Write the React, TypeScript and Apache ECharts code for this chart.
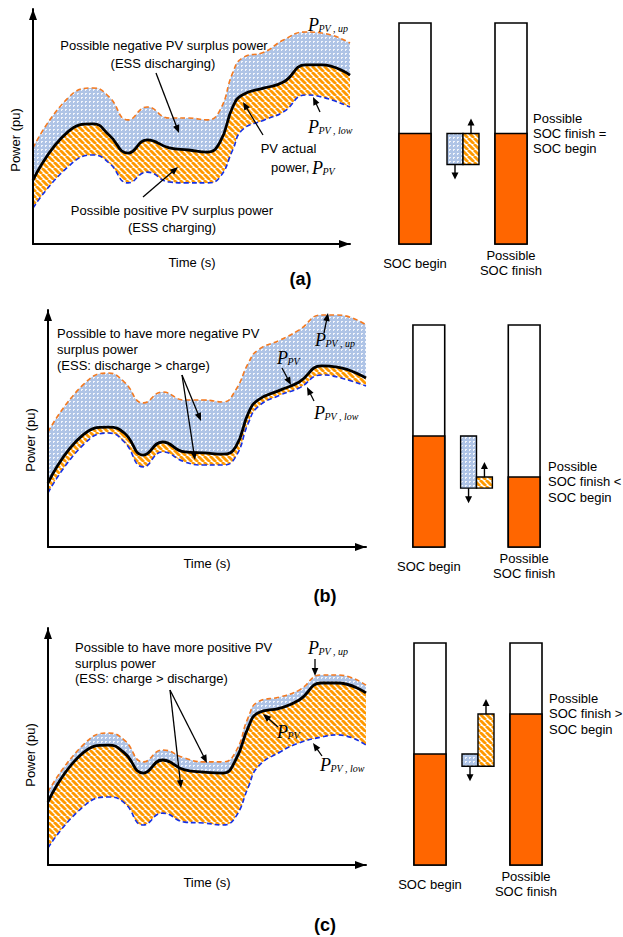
import React, { useEffect, useRef } from 'react';
import * as echarts from 'echarts';

// ---------- data ----------
const time = [0, 11, 19, 24, 30, 36, 43, 49, 55, 59, 63, 66, 73, 79, 86, 91, 100];

const pvA = [0.272, 0.477, 0.511, 0.464, 0.387, 0.443, 0.409, 0.4, 0.391, 0.434, 0.583, 0.634, 0.664, 0.689, 0.762, 0.762, 0.719];
const upA = [0.409, 0.621, 0.664, 0.626, 0.528, 0.583, 0.536, 0.536, 0.528, 0.57, 0.728, 0.791, 0.817, 0.868, 0.902, 0.898, 0.855];
const lowA = [0.153, 0.328, 0.379, 0.345, 0.26, 0.306, 0.264, 0.26, 0.26, 0.285, 0.4, 0.485, 0.528, 0.562, 0.634, 0.626, 0.583];

const pvB = [0.27, 0.473, 0.506, 0.481, 0.388, 0.443, 0.401, 0.397, 0.392, 0.422, 0.565, 0.62, 0.662, 0.696, 0.764, 0.759, 0.713];
const upB = [0.485, 0.684, 0.734, 0.696, 0.608, 0.654, 0.62, 0.62, 0.612, 0.662, 0.776, 0.831, 0.873, 0.916, 0.979, 0.979, 0.937];
const lowB = [0.228, 0.43, 0.481, 0.443, 0.338, 0.401, 0.359, 0.346, 0.346, 0.38, 0.523, 0.591, 0.641, 0.671, 0.726, 0.717, 0.679];

const pvC = [0.266, 0.473, 0.506, 0.473, 0.388, 0.443, 0.401, 0.392, 0.388, 0.443, 0.582, 0.641, 0.662, 0.696, 0.768, 0.768, 0.726];
const upC = [0.308, 0.506, 0.557, 0.527, 0.435, 0.485, 0.451, 0.435, 0.435, 0.477, 0.624, 0.688, 0.709, 0.738, 0.802, 0.802, 0.759];
const lowC = [0.072, 0.245, 0.287, 0.262, 0.169, 0.219, 0.181, 0.177, 0.169, 0.203, 0.329, 0.414, 0.477, 0.515, 0.54, 0.549, 0.506];

const socCategories = ['SOC begin', '', 'Possible\nSOC finish'];
const socBegin = [50, 50, 50];
const socDischarge = [14, 23.5, 5.5];
const socCharge = [14, 5, 23.5];
const socFinish = [50, 31.5, 68];

const finishNotes = ['Possible\nSOC finish =\nSOC begin', 'Possible\nSOC finish <\nSOC begin', 'Possible\nSOC finish >\nSOC begin'];

// ---------- styles ----------
const SANS = '"Liberation Sans", Arial, sans-serif';
const SERIF = '"Liberation Serif", "Times New Roman", serif';
const ORANGE_DASH = '#F47A20';
const BLUE_DASH = '#1530E6';
const HATCH_ORANGE = '#FF9900';
const SOC_ORANGE = '#FF6600';

function makeHatch() {
  const s = 6;
  const c = document.createElement('canvas');
  c.width = s; c.height = s;
  const g = c.getContext('2d')!;
  g.fillStyle = '#ffffff';
  g.fillRect(0, 0, s, s);
  g.strokeStyle = HATCH_ORANGE;
  g.lineWidth = 2.8;
  for (const k of [-s, 0, s]) {
    g.beginPath();
    g.moveTo(k, 0);
    g.lineTo(k + s, s);
    g.stroke();
  }
  return { image: c.toDataURL(), repeat: 'repeat', imageWidth: s, imageHeight: s };
}

function makeDots() {
  const s = 4;
  const c = document.createElement('canvas');
  c.width = s; c.height = s;
  const g = c.getContext('2d')!;
  g.fillStyle = '#AFC4E6';
  g.fillRect(0, 0, s, s);
  g.fillStyle = '#F3F6FC';
  g.fillRect(1, 1, 2, 1);
  g.fillRect(1, 2, 1, 1);
  return { image: c.toDataURL(), repeat: 'repeat', imageWidth: s, imageHeight: s };
}

function arrow(x1: number, y1: number, x2: number, y2: number, head = 8, half = 3.3, lw = 1.3, z = 100) {
  const dx = x2 - x1, dy = y2 - y1;
  const L = Math.sqrt(dx * dx + dy * dy);
  const ux = dx / L, uy = dy / L;
  const px = -uy, py = ux;
  const bx = x2 - ux * head, by = y2 - uy * head;
  return [
    { type: 'line', z, silent: true, shape: { x1, y1, x2: bx + ux * 1, y2: by + uy * 1 }, style: { stroke: '#000', lineWidth: lw } },
    { type: 'polygon', z, silent: true, shape: { points: [[x2, y2], [bx + px * half, by + py * half], [bx - px * half, by - py * half]] }, style: { fill: '#000' } },
  ];
}

function txt(text: string, x: number, y: number, opts: any = {}) {
  const align = opts.align || 'center';
  const va = opts.va || 'middle';
  return {
    type: 'text', z: 100, silent: true, x, y, rotation: opts.rotation || 0,
    style: {
      text, fill: '#000',
      font: opts.font || `13px ${SANS}`,
      align, textAlign: align, verticalAlign: va, textVerticalAlign: va,
      lineHeight: opts.lineHeight || 15.5,
    },
  };
}

// P with subscript; x = left of P, b = baseline of P
function pLabel(x: number, b: number, sub: string) {
  return [
    txt('P', x, b - 5.5, { align: 'left', font: `italic 18px ${SERIF}` }),
    txt(sub, x + 10.5, b + 1.5 - 3.2, { align: 'left', font: `italic 10px ${SERIF}`, lineHeight: 11 }),
  ];
}

const App: React.FC = () => {
  const ref = useRef<HTMLDivElement>(null);

  useEffect(() => {
    if (!ref.current) return;
    const chart = echarts.init(ref.current, undefined, { renderer: 'svg' });
    const hatch = makeHatch();
    const dots = makeDots();

    const lineGrids = [
      { left: 33, top: 9, width: 317, height: 235 },
      { left: 48, top: 310, width: 318, height: 237 },
      { left: 48, top: 628, width: 318, height: 237 },
    ];
    const socGrids = [
      { left: 391, top: 23, width: 144, height: 221 },
      { left: 405, top: 325, width: 143, height: 222 },
      { left: 406, top: 643, width: 144, height: 222 },
    ];
    const panels = [
      { pv: pvA, up: upA, low: lowA },
      { pv: pvB, up: upB, low: lowB },
      { pv: pvC, up: upC, low: lowC },
    ];

    const grid: any[] = [];
    const xAxis: any[] = [];
    const yAxis: any[] = [];
    const series: any[] = [];

    const axisLine = {
      show: true,
      symbol: ['none', 'triangle'],
      symbolSize: [8, 11],
      symbolOffset: [0, -5.5],
      lineStyle: { color: '#000', width: 2 },
    };

    panels.forEach((p, i) => {
      grid.push({ ...lineGrids[i], containLabel: false });
      xAxis.push({ type: 'value', gridIndex: i, min: 0, max: 100, z: 10, axisLine, axisTick: { show: false }, axisLabel: { show: false }, splitLine: { show: false } });
      yAxis.push({ type: 'value', gridIndex: i, min: 0, max: 1, z: 10, axisLine, axisTick: { show: false }, axisLabel: { show: false }, splitLine: { show: false } });
      const zip = (arr: number[]) => arr.map((v, k) => [time[k], v]);
      const common = { type: 'line', xAxisIndex: i, yAxisIndex: i, symbol: 'none', smooth: 0.5, silent: true };
      series.push({ ...common, name: 'P_PV,up', data: zip(p.up), lineStyle: { color: ORANGE_DASH, width: 1.6, type: [5, 3] }, areaStyle: { color: dots, opacity: 1 }, z: 2 });
      series.push({ ...common, name: 'P_PV area', data: zip(p.pv), lineStyle: { width: 0, opacity: 0 }, areaStyle: { color: hatch, opacity: 1 }, z: 3 });
      series.push({ ...common, name: 'P_PV,low', data: zip(p.low), lineStyle: { color: BLUE_DASH, width: 1.6, type: [5, 3] }, areaStyle: { color: '#ffffff', opacity: 1 }, z: 4 });
      series.push({ ...common, name: 'P_PV', data: zip(p.pv), lineStyle: { color: '#000', width: 2.8 }, z: 5 });
    });

    panels.forEach((_, i) => {
      const gi = 3 + i;
      grid.push({ ...socGrids[i], containLabel: false });
      xAxis.push({
        type: 'category', gridIndex: gi, data: socCategories,
        axisLine: { show: false }, axisTick: { show: false }, splitLine: { show: false },
        axisLabel: { show: true, interval: 0, margin: 19, verticalAlign: 'middle', color: '#000', fontFamily: SANS, fontSize: 13, lineHeight: 15.5 },
      });
      yAxis.push({ type: 'value', gridIndex: gi, min: 0, max: 100, show: false });
      const data = [
        [0, socBegin[i], 0, 0],
        [1, socBegin[i], socDischarge[i], socCharge[i]],
        [2, socFinish[i], 0, 0],
      ];
      series.push({
        type: 'custom', xAxisIndex: gi, yAxisIndex: gi, data, encode: { x: 0, y: 1 }, clip: false, silent: true,
        renderItem: (params: any, api: any) => {
          const cat = api.value(0);
          const soc = api.value(1);
          const dis = api.value(2);
          const chg = api.value(3);
          const band = api.size([1, 0])[0];
          const [cx, y0] = api.coord([cat, 0]);
          if (cat !== 1) {
            const yTop = api.coord([cat, 100])[1];
            const ySoc = api.coord([cat, soc])[1];
            const w = (band * 2) / 3;
            return {
              type: 'group',
              children: [
                { type: 'rect', shape: { x: cx - w / 2, y: yTop, width: w, height: y0 - yTop }, style: { fill: '#fff', stroke: '#000', lineWidth: 1.6 } },
                { type: 'rect', shape: { x: cx - w / 2, y: ySoc, width: w, height: y0 - ySoc }, style: { fill: SOC_ORANGE, stroke: '#000', lineWidth: 1.6 } },
              ],
            };
          }
          const w = band / 3;
          const base = soc - dis;
          const yBase = api.coord([cat, base])[1];
          const yBlue = api.coord([cat, soc])[1];
          const yOr = api.coord([cat, base + chg])[1];
          return {
            type: 'group',
            children: [
              { type: 'rect', shape: { x: cx - w, y: yBlue, width: w, height: yBase - yBlue }, style: { fill: dots, stroke: '#000', lineWidth: 1.4 } },
              { type: 'rect', shape: { x: cx, y: yOr, width: w, height: yBase - yOr }, style: { fill: hatch, stroke: '#000', lineWidth: 1.4 } },
              ...arrow(cx - w / 2, yBase, cx - w / 2, yBase + 15, 7, 3.5, 1.4),
              ...arrow(cx + w / 2, yOr, cx + w / 2, yOr - 15, 7, 3.5, 1.4),
            ],
          };
        },
      });
    });

    const graphic: any[] = [
      // panel (a)
      txt('Possible negative PV surplus power', 164, 45),
      txt('(ESS discharging)', 163, 63),
      txt('Possible positive PV surplus power', 172, 210),
      txt('(ESS charging)', 172, 227),
      txt('PV actual', 288.5, 148),
      txt('power,', 271, 167, { align: 'left' }),
      ...pLabel(312, 173, 'PV'),
      ...pLabel(308, 30, 'PV , up'),
      ...pLabel(308, 132, 'PV , low'),
      ...arrow(156, 73, 179, 133),
      ...arrow(143, 197, 178, 167),
      ...arrow(263, 135, 243, 102),
      ...arrow(320, 112, 313, 97),
      txt('Time (s)', 192, 262),
      txt('Power (pu)', 15, 140, { rotation: Math.PI / 2 }),
      txt('(a)', 300.5, 279, { font: `bold 18px ${SANS}` }),
      txt(finishNotes[0], 533, 110.5, { align: 'left', va: 'top', lineHeight: 15 }),
      // panel (b)
      txt('Possible to have more negative PV\nsurplus power\n(ESS: discharge > charge)', 57, 325, { align: 'left', va: 'top', lineHeight: 16 }),
      ...arrow(182, 375, 201, 421),
      ...arrow(182, 375, 195, 460),
      ...pLabel(277, 363, 'PV'),
      ...arrow(282, 368, 291, 385),
      ...pLabel(315, 345, 'PV , up'),
      ...arrow(324, 333, 328, 313),
      ...pLabel(314, 418, 'PV , low'),
      ...arrow(314, 401, 307, 387),
      txt('Time (s)', 207, 563),
      txt('Power (pu)', 30, 440, { rotation: Math.PI / 2 }),
      txt('(b)', 325, 596, { font: `bold 18px ${SANS}` }),
      txt(finishNotes[1], 548, 458.5, { align: 'left', va: 'top', lineHeight: 15.5 }),
      // panel (c)
      txt('Possible to have more positive PV\nsurplus power\n(ESS: charge > discharge)', 75, 640, { align: 'left', va: 'top', lineHeight: 15.5 }),
      ...arrow(170, 690, 207, 763),
      ...arrow(170, 690, 181, 788),
      ...pLabel(308, 653, 'PV , up'),
      ...arrow(315, 659, 315, 676),
      ...pLabel(277, 737, 'PV'),
      ...arrow(278, 727, 263, 714),
      ...pLabel(320, 770, 'PV , low'),
      ...arrow(322, 756, 313, 743),
      txt('Time (s)', 207, 882),
      txt('Power (pu)', 30, 755, { rotation: Math.PI / 2 }),
      txt('(c)', 325, 925, { font: `bold 18px ${SANS}` }),
      txt(finishNotes[2], 549, 690.5, { align: 'left', va: 'top', lineHeight: 15.5 }),
    ];

    chart.setOption({
      animation: false,
      backgroundColor: '#ffffff',
      grid, xAxis, yAxis, series,
      graphic: { elements: graphic },
    });
    return () => chart.dispose();
  }, []);

  return <div ref={ref} style={{ position: 'absolute', left: 0, top: 0, width: 623, height: 937 }} />;
};

export default App;
